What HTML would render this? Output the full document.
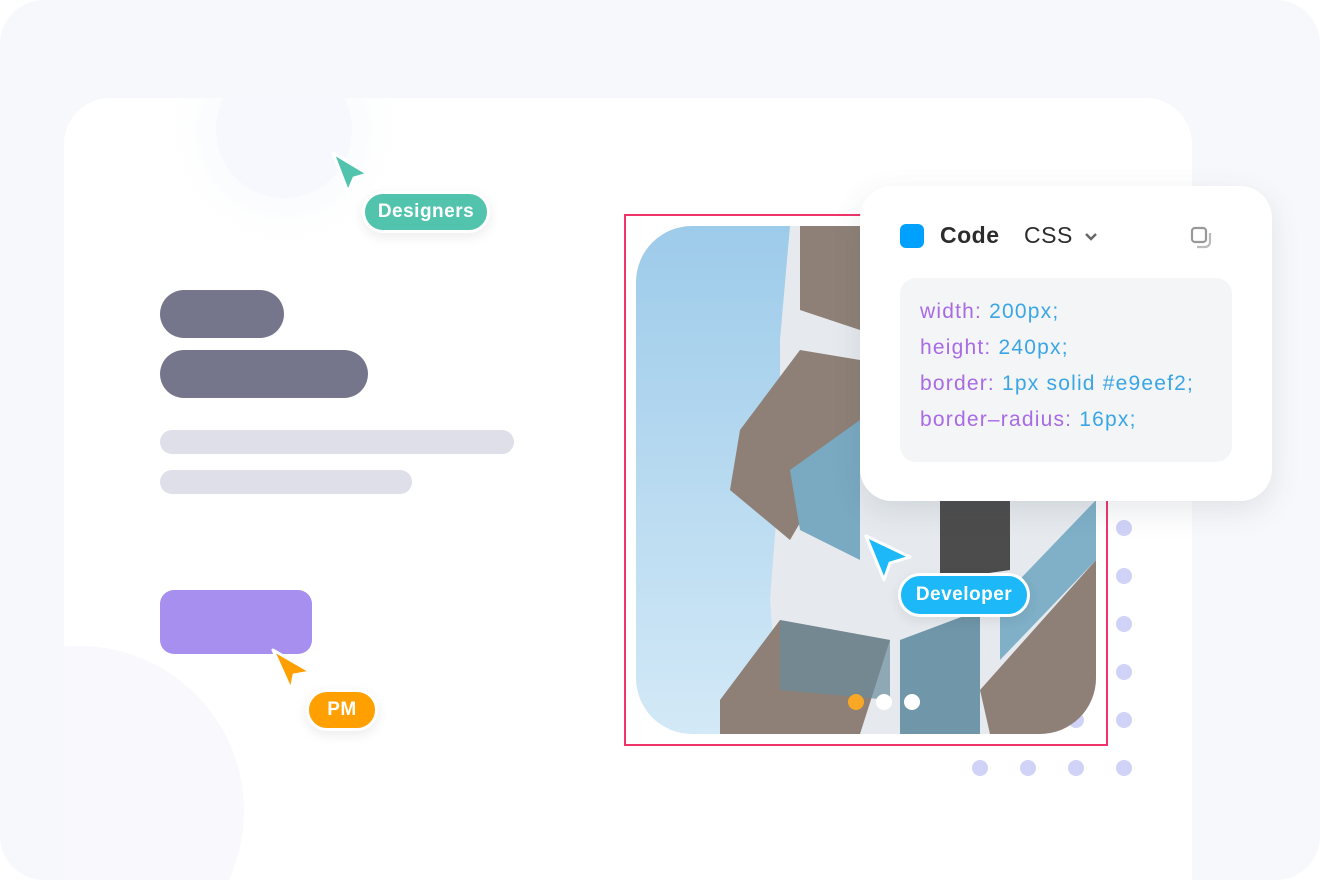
<!DOCTYPE html>
<html><head><meta charset="utf-8"><style>
html,body{margin:0;padding:0;width:1320px;height:880px;overflow:hidden;background:#fff;}
#wrap{position:relative;width:1320px;height:880px;overflow:hidden;}
.bg{position:absolute;left:0;top:0;width:1320px;height:880px;background:#f7f8fb;border-radius:44px;}
.card{position:absolute;left:64px;top:98px;width:1128px;height:782px;background:#fff;border-radius:46px 46px 0 0;overflow:hidden;}
.c1{position:absolute;left:152px;top:-36px;width:136px;height:136px;border-radius:50%;background:#f7f8fd;box-shadow:0 0 30px 20px rgba(247,248,252,.6);}
.c2{position:absolute;left:-150px;top:548px;width:330px;height:330px;border-radius:50%;background:#f8f8fd;}
.bar{position:absolute;border-radius:30px;}
.pill{position:absolute;color:#fff;font-family:"Liberation Sans",sans-serif;font-size:19px;font-weight:bold;letter-spacing:0.5px;text-align:center;border:3px solid #fff;border-radius:24px;box-shadow:0 4px 12px rgba(0,0,0,.08);box-sizing:border-box;}
.panel{position:absolute;left:860px;top:186px;width:412px;height:315px;background:#fff;border-radius:32px;box-shadow:0 10px 30px rgba(60,70,90,.12);font-family:"Liberation Sans",sans-serif;}
.code{position:absolute;left:40px;top:92px;width:332px;height:184px;background:#f4f5f6;border-radius:16px;font-size:21px;letter-spacing:1.2px;line-height:36px;padding-top:16px;box-sizing:border-box;padding-left:20px;white-space:nowrap;overflow:hidden;}
.k{color:#a86be6}.v{color:#3aa6e6}
</style></head><body><div id="wrap">
<div class="bg"></div>
<div class="card"><div class="c1"></div><div class="c2"></div></div>
<div class="bar" style="left:160px;top:290px;width:124px;height:48px;background:#75768c"></div>
<div class="bar" style="left:160px;top:350px;width:208px;height:48px;background:#75768c"></div>
<div class="bar" style="left:160px;top:430px;width:354px;height:24px;background:#dfdfe9"></div>
<div class="bar" style="left:160px;top:470px;width:252px;height:24px;background:#dfdfe9"></div>
<div class="bar" style="left:160px;top:590px;width:152px;height:64px;background:#a78ff0;border-radius:14px"></div>

<svg width="1320" height="880" style="position:absolute;left:0;top:0;display:block">
<defs><clipPath id="ph"><rect x="636" y="226" width="460" height="508" rx="56"/></clipPath>
<linearGradient id="sky" x1="0" y1="0" x2="0" y2="1"><stop offset="0" stop-color="#9dcbea"/><stop offset="1" stop-color="#d3e9f7"/></linearGradient></defs>
<g fill="#d0d2f7">
<g id="row"><circle cx="980" cy="528" r="8"/><circle cx="1028" cy="528" r="8"/><circle cx="1076" cy="528" r="8"/><circle cx="1124" cy="528" r="8"/></g>
<use href="#row" y="48"/><use href="#row" y="96"/><use href="#row" y="144"/><use href="#row" y="192"/><use href="#row" y="240"/>
</g>
<rect x="625" y="215" width="482" height="530" fill="none" stroke="#f0336a" stroke-width="2"/>
<g clip-path="url(#ph)">
<rect x="636" y="226" width="460" height="508" fill="url(#sky)"/>
<polygon points="790,226 1096,226 1096,734 780,734 770,600 780,470 780,340" fill="#e6eaee"/>
<polygon points="800,226 860,226 860,330 800,310" fill="#8e8076"/>
<polygon points="740,430 800,350 860,360 860,420 790,540 730,490" fill="#8e8076"/>
<polygon points="790,470 860,420 860,560 800,530" fill="#7aa9c2"/>
<polygon points="720,700 780,620 890,640 860,734 720,734" fill="#8e8076"/>
<polygon points="940,500 1010,500 1010,570 940,580" fill="#4d4c4c"/>
<polygon points="980,690 1096,560 1096,734 990,734" fill="#8e8076"/>
<polygon points="1000,600 1096,500 1096,560 1000,660" fill="#7fb0c8"/>
<polygon points="780,620 890,640 890,700 780,690" fill="#6a8c9d" opacity=".7"/>
<polygon points="900,640 980,610 980,734 900,734" fill="#6f97a9"/>
</g>
<circle cx="856" cy="702" r="8" fill="#f9a825"/><circle cx="884" cy="702" r="8" fill="#fff"/><circle cx="912" cy="702" r="8" fill="#fff"/>
<g stroke="#fff" stroke-width="3" stroke-linejoin="round">
<polygon points="333,153 368,174 354,178 348,192" fill="#52c4ad"/>
<polygon points="273,650 311,672 294,675 291,690" fill="#ff9f00"/>
<polygon points="866,536 910,557 890,563 884,580" fill="#1cb8f7"/>
</g>
</svg>
<div class="pill" style="left:362px;top:191px;width:128px;height:42px;line-height:36px;background:#52c4ad">Designers</div>
<div class="pill" style="left:306px;top:689px;width:72px;height:42px;line-height:36px;background:#ff9f00">PM</div>
<div class="pill" style="left:898px;top:573px;width:132px;height:44px;line-height:38px;background:#1cb8f7">Developer</div>

<div class="panel">
<div style="position:absolute;left:40px;top:38px;width:24px;height:24px;background:#00a0ff;border-radius:6px"></div>
<div style="position:absolute;left:80px;top:36px;font-size:23px;font-weight:bold;color:#2c2c2c;letter-spacing:0.5px">Code</div>
<div style="position:absolute;left:164px;top:36px;font-size:23px;color:#2c2c2c;letter-spacing:0.5px">CSS</div>
<svg style="position:absolute;left:224px;top:46px" width="14" height="10"><polyline points="2,2 7,7 12,2" fill="none" stroke="#666" stroke-width="2.5"/></svg>
<svg style="position:absolute;left:330px;top:40px" width="26" height="26"><rect x="2" y="2" width="14" height="14" rx="3" fill="none" stroke="#999" stroke-width="2.2"/><path d="M20 7v9a5 5 0 0 1-5 5H7" fill="none" stroke="#bbb" stroke-width="2.2"/></svg>
<div class="code">
<div><span class="k">width:</span> <span class="v">200px;</span></div>
<div><span class="k">height:</span> <span class="v">240px;</span></div>
<div><span class="k">border:</span> <span class="v">1px solid #e9eef2;</span></div>
<div><span class="k">border–radius:</span> <span class="v">16px;</span></div>
</div>
</div>
</div></body></html>
